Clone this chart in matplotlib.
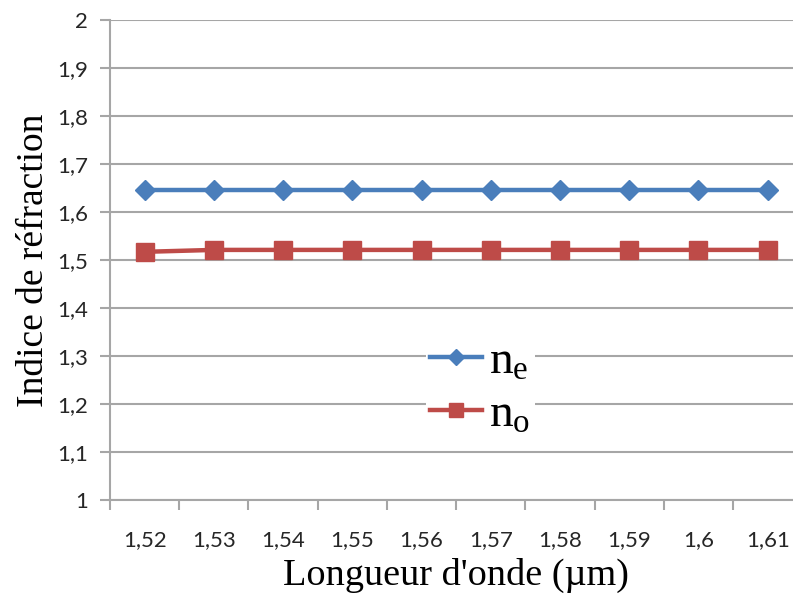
import numpy as np
import matplotlib.pyplot as plt

# wavelength categories (µm) and refractive indices
wavelengths = ["1,52", "1,53", "1,54", "1,55", "1,56", "1,57", "1,58", "1,59", "1,6", "1,61"]
n_e = [1.645, 1.645, 1.645, 1.645, 1.645, 1.645, 1.645, 1.645, 1.645, 1.645]
n_o = [1.517, 1.521, 1.521, 1.521, 1.521, 1.521, 1.521, 1.521, 1.521, 1.521]
y_ticks = [1.0, 1.1, 1.2, 1.3, 1.4, 1.5, 1.6, 1.7, 1.8, 1.9, 2.0]
y_labels = ["1", "1,1", "1,2", "1,3", "1,4", "1,5", "1,6", "1,7", "1,8", "1,9", "2"]

fig = plt.figure(figsize=(7.93, 5.95), dpi=100)
ax = fig.add_axes([0.1387, 0.1597, 0.873, 0.8067])

x = np.arange(len(wavelengths))
ax.plot(x, n_e, color="#4a7ebb", lw=3.2, marker="D", ms=10, label="$\\mathregular{n_e}$", zorder=3)
ax.plot(x, n_o, color="#be4b48", lw=3.2, marker="s", ms=12.5, label="$\\mathregular{n_o}$", zorder=3)

ax.set_xlim(-0.5, len(wavelengths) - 0.5)
ax.set_ylim(1, 2)
ax.set_yticks(y_ticks)
ax.set_yticklabels(y_labels)
ax.set_xticks(x)
ax.set_xticklabels(wavelengths)
ax.set_xticks(np.arange(-0.5, len(wavelengths)), minor=True)

ax.grid(axis="y", color="#a6a6a6", lw=1.5, zorder=0)
for s in ["top", "right"]:
    ax.spines[s].set_visible(False)
for s in ["left", "bottom"]:
    ax.spines[s].set_color("#a6a6a6")
    ax.spines[s].set_linewidth(1.5)

ax.tick_params(axis="x", which="major", length=0, pad=22)
ax.tick_params(axis="x", which="minor", length=7, width=1.5, color="#a6a6a6")
ax.tick_params(axis="y", length=7, width=1.5, color="#a6a6a6", pad=9)
for lab in ax.get_xticklabels() + ax.get_yticklabels():
    lab.set_family("Lato")
    lab.set_fontsize(16)
    lab.set_color("#262626")

ax.set_ylabel("Indice de réfraction", family="Liberation Serif", fontsize=27, labelpad=4)
ax.set_xlabel("Longueur d'onde (µm)", family="Liberation Serif", fontsize=27.5, labelpad=5)

leg = ax.legend(loc="center", bbox_to_anchor=(0.535, 0.232), frameon=True, framealpha=1,
                edgecolor="white", fancybox=False, handlelength=1.1, handletextpad=0.15,
                labelspacing=0.2, markerscale=0.8,
                prop={"family": "Liberation Serif", "size": 34}, borderpad=0.1)
leg.get_frame().set_linewidth(0)

plt.savefig("out.png", dpi=100)
